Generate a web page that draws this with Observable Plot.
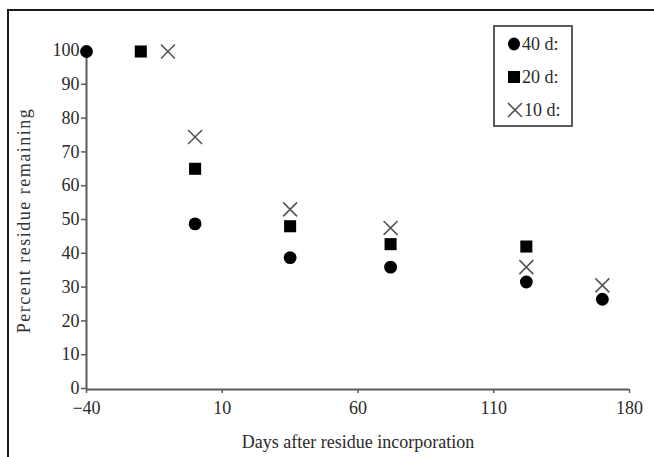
<!DOCTYPE html>
<html>
<head>
<meta charset="utf-8">
<script src="https://cdn.jsdelivr.net/npm/d3@7"></script>
<script src="https://cdn.jsdelivr.net/npm/@observablehq/plot@0.6"></script>
<style>
  html, body { margin: 0; padding: 0; background: #fff; overflow: hidden; }
  #wrap { position: relative; width: 654px; height: 457px; overflow: hidden; }
  #frame { position: absolute; left: 7px; top: 9px; width: 760px; height: 560px; border: 2px solid #1a1a1a; box-sizing: border-box; }
  #chart { position: absolute; left: 0; top: 0; }
  #legend { position: absolute; left: 493px; top: 25px; width: 80px; height: 102px; border: 2px solid #5a5a5a; box-sizing: border-box; background: #fff;
            font-family: "Liberation Serif", "DejaVu Serif", serif; font-size: 18px; color: #2a2a2a; }
  .li { position: absolute; left: 0; height: 24px; display: flex; align-items: center; }
  .li svg { margin-left: 12px; margin-right: 1px; }
</style>
</head>
<body>
<div id="wrap">
  <div id="frame"></div>
  <div id="chart"></div>
  <div id="legend"></div>
</div>
<script>
// Series: days after residue incorporation vs percent residue remaining
const seriesNames = ["40 d:", "20 d:", "10 d:"];
const days40 = [-40, 0, 35, 72, 122, 150];
const pct40  = [100, 49, 39, 36.2, 31.8, 26.7];
const days20 = [-20, 0, 35, 72, 122];
const pct20  = [100, 65.3, 48.3, 43, 42.3];
const days10 = [-10, 0, 35, 72, 122, 150];
const pct10  = [100, 74.7, 53.3, 47.8, 36.2, 30.8];

const xTicks = [-40, 10, 60, 110, 160];
const xTickLabels = ["\u221240", "10", "60", "110", "180"];
const yTicks = [0, 10, 20, 30, 40, 50, 60, 70, 80, 90, 100];

const toRows = (xs, ys, s) => xs.map((d, i) => ({day: d, pct: ys[i], series: s}));
const rows40 = toRows(days40, pct40, seriesNames[0]);
const rows20 = toRows(days20, pct20, seriesNames[1]);
const rows10 = toRows(days10, pct10, seriesNames[2]);

const axisColor = "#5a5a5a";
const font = "Liberation Serif, DejaVu Serif, serif";

const plot = Plot.plot({
  width: 654,
  height: 457,
  marginLeft: 86,
  marginRight: 25,
  marginTop: 51,
  marginBottom: 68,
  style: {fontFamily: font, fontSize: "18px", color: "#2a2a2a", background: "transparent"},
  x: {domain: [-40, 160]},
  y: {domain: [0, 100]},
  marks: [
    Plot.ruleX([-40], {stroke: axisColor, strokeWidth: 2}),
    Plot.ruleY([0], {stroke: axisColor, strokeWidth: 2}),
    Plot.axisX({ticks: xTicks, tickFormat: (d) => xTickLabels[xTicks.indexOf(d)], tickSize: 4, tickPadding: 8, stroke: axisColor, strokeWidth: 1.5,
                label: "Days after residue incorporation", labelAnchor: "center", labelArrow: "none", labelOffset: 58, fontSize: 18}),
    Plot.axisY({ticks: yTicks, tickSize: 5, tickPadding: 2, stroke: axisColor, strokeWidth: 1.5,
                label: null, fontSize: 18, dy: -1}),
    Plot.text(["Percent residue remaining"], {frameAnchor: "left", dx: -62, rotate: -90, fontSize: 18, fill: "#333",
                textAnchor: "middle", fontFamily: font}),
    Plot.dot(rows10, {x: "day", y: "pct", symbol: "times", r: 6.4, stroke: "#555", strokeWidth: 1.6, fill: "none"}),
    Plot.dot(rows20, {x: "day", y: "pct", symbol: "square", r: 6.8, fill: "#000", stroke: "none"}),
    Plot.dot(rows40, {x: "day", y: "pct", symbol: "circle", r: 6.4, fill: "#000", stroke: "none"})
  ]
});
plot.querySelectorAll("text").forEach(t => {
  if (t.textContent === "Percent residue remaining") t.setAttribute("letter-spacing", "1.5");
});
document.getElementById("chart").appendChild(plot);

// Legend inside the plot
const legend = document.getElementById("legend");
const symbols = [
  '<svg width="14" height="14"><ellipse cx="7" cy="7" rx="6" ry="6.5" fill="#000"/></svg>',
  '<svg width="14" height="14"><rect x="1" y="1" width="12" height="12" fill="#000"/></svg>',
  '<svg width="16" height="16"><path d="M1,1L15,15M1,15L15,1" stroke="#555" stroke-width="1.6" fill="none"/></svg>'
];
const tops = [5, 38, 71];
seriesNames.forEach((name, i) => {
  const el = document.createElement("div");
  el.className = "li";
  el.style.top = tops[i] + "px";
  el.innerHTML = symbols[i] + "<span>" + name + "</span>";
  legend.appendChild(el);
});
</script>
</body>
</html>
